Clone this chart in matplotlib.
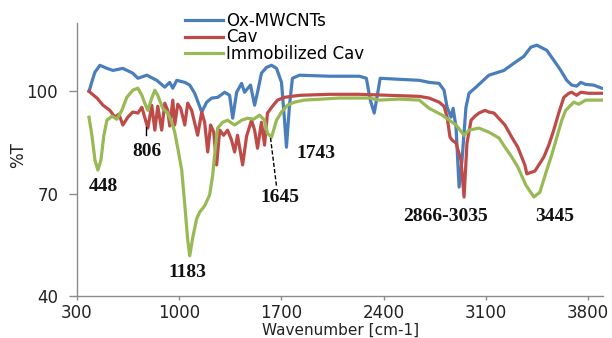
import matplotlib
matplotlib.use("Agg")
import matplotlib.pyplot as plt

# FTIR spectra (wavenumber cm-1, %T)
ox_wn = [382, 389, 409, 423, 457, 505, 546, 614, 682, 717, 778, 846, 901, 935,
         956, 983, 1038, 1072, 1106, 1154, 1188, 1222, 1263, 1311, 1345, 1366,
         1393, 1427, 1447, 1488, 1516, 1536, 1563, 1598, 1632, 1666, 1700, 1720,
         1734, 1755, 1775, 1823, 2028, 2233, 2281, 2308, 2335, 2356, 2376, 2506,
         2643, 2711, 2779, 2813, 2834, 2861, 2875, 2895, 2916, 2936, 2963, 2984,
         3032, 3120, 3223, 3291, 3359, 3407, 3448, 3516, 3564, 3612, 3653, 3687,
         3721, 3749, 3783, 3837, 3892]
ox_t = [100.0, 100.9, 103.8, 105.6, 107.6, 106.7, 106.1, 106.7, 105.3, 103.8,
        104.7, 103.2, 101.2, 102.6, 100.9, 103.2, 102.6, 101.8, 99.4, 93.9, 96.8,
        98.0, 98.2, 99.7, 98.8, 92.1, 99.7, 102.3, 99.7, 101.8, 95.9, 99.7, 105.3,
        107.0, 107.6, 106.7, 102.6, 92.1, 83.6, 95.9, 103.8, 104.7, 104.4, 104.4,
        103.8, 97.4, 93.6, 98.8, 103.8, 103.5, 103.2, 102.6, 102.3, 100.3, 95.3,
        92.4, 95.0, 89.5, 71.9, 79.8, 95.3, 99.4, 101.2, 104.7, 106.1, 108.2,
        110.2, 112.9, 113.5, 112.0, 109.1, 106.1, 103.2, 101.8, 101.5, 102.6,
        102.0, 101.8, 100.9]

cav_wn = [382, 389, 437, 478, 525, 560, 587, 614, 648, 682, 717, 744, 785, 812,
          833, 853, 880, 901, 921, 935, 956, 969, 990, 1010, 1038, 1058, 1085,
          1126, 1154, 1174, 1195, 1215, 1236, 1256, 1277, 1304, 1331, 1358, 1379,
          1399, 1434, 1461, 1495, 1516, 1536, 1563, 1584, 1604, 1638, 1673, 1720,
          1768, 1823, 2028, 2233, 2438, 2643, 2711, 2779, 2813, 2834, 2854, 2868,
          2895, 2929, 2950, 2970, 2998, 3025, 3052, 3093, 3120, 3155, 3230, 3277,
          3318, 3366, 3380, 3435, 3496, 3530, 3564, 3598, 3633, 3667, 3687, 3721,
          3749, 3804, 3892]
cav_t = [100.0, 99.7, 98.0, 95.9, 94.4, 92.4, 93.3, 90.1, 92.4, 93.9, 93.6, 95.3,
         89.2, 95.9, 88.6, 95.6, 88.6, 96.5, 94.4, 89.8, 97.4, 90.1, 96.2, 95.0,
         90.1, 96.5, 94.4, 87.1, 93.9, 90.9, 82.2, 90.1, 88.0, 78.4, 88.6, 87.1,
         88.6, 85.7, 82.2, 87.1, 78.4, 86.8, 91.5, 88.6, 83.3, 90.9, 84.2, 93.6,
         95.6, 97.4, 98.2, 98.5, 98.8, 99.1, 99.1, 98.8, 98.5, 98.0, 96.8, 95.6,
         92.4, 86.5, 85.7, 84.8, 79.8, 69.0, 84.8, 91.5, 92.7, 93.6, 94.4, 93.9,
         93.6, 90.1, 86.5, 83.6, 78.4, 75.8, 76.6, 80.7, 84.2, 88.6, 93.6, 98.2,
         99.4, 99.7, 98.8, 99.7, 99.4, 99.4]

imm_wn = [382, 402, 423, 443, 464, 484, 505, 539, 573, 607, 641, 682, 717, 744,
          764, 785, 812, 833, 853, 887, 921, 949, 969, 990, 1017, 1038, 1058,
          1072, 1092, 1119, 1140, 1174, 1208, 1229, 1249, 1263, 1297, 1331, 1379,
          1427, 1468, 1509, 1550, 1584, 1604, 1632, 1666, 1700, 1741, 1789, 1857,
          2096, 2301, 2369, 2506, 2643, 2711, 2800, 2895, 2950, 2984, 3052, 3120,
          3189, 3230, 3277, 3318, 3373, 3428, 3469, 3516, 3550, 3585, 3619, 3646,
          3701, 3735, 3783, 3892]
imm_t = [92.4, 87.1, 79.8, 76.9, 79.8, 87.1, 91.5, 92.7, 91.8, 94.4, 98.2, 100.3,
         100.9, 98.8, 96.5, 94.4, 98.0, 100.3, 98.8, 95.0, 93.6, 90.9, 88.0, 83.3,
         76.9, 66.7, 56.4, 51.8, 57.0, 62.6, 64.6, 66.4, 69.6, 75.4, 84.2, 89.2,
         90.9, 91.5, 90.1, 91.5, 92.1, 91.8, 93.0, 91.5, 87.7, 86.5, 91.5, 93.9,
         95.9, 96.8, 97.4, 98.0, 98.0, 97.4, 97.7, 97.4, 95.0, 93.0, 90.1, 87.1,
         88.6, 89.2, 88.0, 86.3, 83.6, 80.7, 77.8, 72.5, 69.0, 70.4, 76.9, 81.3,
         86.5, 91.5, 94.4, 96.8, 96.2, 97.4, 97.4]

series_names = ["Ox-MWCNTs", "Cav", "Immobilized Cav"]
peak_labels = ["448", "806", "1183", "1645", "1743", "2866-3035", "3445"]

x_ticks = [300, 1000, 1700, 2400, 3100, 3800]
y_ticks = [40, 70, 100]

OUT_PATH = "out.png"


def plot_spectra():
    fig = plt.figure(figsize=(6.12, 3.38), dpi=100)
    ax = fig.add_axes([0.1258, 0.1243, 0.8592, 0.8077])

    colors = ["#4a7ebb", "#be4b48", "#98b954"]
    lines = []
    for wn, t, name, c in zip([ox_wn, cav_wn, imm_wn], [ox_t, cav_t, imm_t],
                              series_names, colors):
        ln, = ax.plot(wn, t, color=c, lw=2.3, label=name, solid_joinstyle="round")
        lines.append(ln)

    ax.set_xlim(300, 3900)
    ax.set_ylim(40, 120)
    ax.set_xticks(x_ticks)
    ax.set_yticks(y_ticks)

    for side in ["top", "right"]:
        ax.spines[side].set_visible(False)
    for side in ["left", "bottom"]:
        ax.spines[side].set_color("#8c8c8c")
        ax.spines[side].set_linewidth(1.0)
    ax.tick_params(axis="y", length=5.5, width=1, color="#8c8c8c", pad=8,
                   labelsize=12, labelcolor="#222222")
    ax.tick_params(axis="x", length=3, width=1, color="#8c8c8c", pad=3,
                   labelsize=12, labelcolor="#222222")

    # peak labels (bold serif, like the original)
    label_pos = [(478, 72.2), (778, 82.2), (1058, 47.0), (1687, 69.0),
                 (1939, 81.9), (2820, 63.4), (3572, 63.4)]
    for txt, (x, y) in zip(peak_labels, label_pos):
        ax.text(x, y, txt, ha="center", va="center", fontsize=14,
                family="Liberation Serif", fontweight="bold", color="#111111")
    ax.plot([771, 771], [89.5, 87.1], color="black", lw=1)
    ax.plot([1625, 1666], [86.3, 72.2], color="black", lw=1, ls=(0, (3, 1.5)))

    fig.legend(handles=lines, loc="upper left", bbox_to_anchor=(0.302, 0.965),
               frameon=False, fontsize=12, borderpad=0, borderaxespad=0,
               handlelength=2.3, handletextpad=0.2, labelspacing=-0.08)

    fig.text(0.03, 1 - 155 / 338, "%T", rotation=90, ha="center", va="center",
             fontsize=12, color="#222222")
    fig.text(0.556, 0.0, "Wavenumber [cm-1]", ha="center", va="bottom",
             fontsize=11, color="#222222")

    plt.savefig(OUT_PATH, dpi=100)
    plt.close()


def main():
    plot_spectra()


if __name__ == "__main__":
    main()
